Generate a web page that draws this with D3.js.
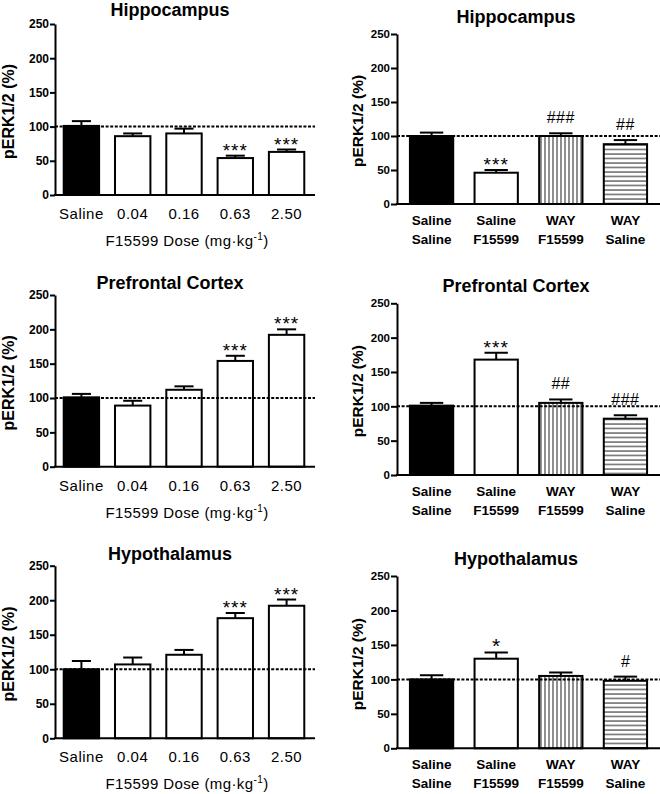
<!DOCTYPE html>
<html>
<meta charset="utf-8">
<script src="https://d3js.org/d3.v7.min.js"></script>
<style>
  body { margin: 0; background: #fff; }
  text { font-family: "Liberation Sans", Arial, sans-serif; fill: #000; }
</style>
<body>
<div id="my_dataviz"></div>

<script>
// categories and tick labels
var doseLabels = ["Saline", "0.04", "0.16", "0.63", "2.50"];
var treatTop = ["Saline", "Saline", "WAY", "WAY"];
var treatBottom = ["Saline", "F15599", "F15599", "Saline"];
var yTicks = [0, 50, 100, 150, 200, 250];

// dose-response panels (mean, sem, significance)
var hippoDoseMean = [101, 86, 90, 54, 63];
var hippoDoseSem = [7, 4, 7, 3.5, 3.5];
var hippoDoseSig = ["", "", "", "***", "***"];
var pfcDoseMean = [101, 89, 112, 154, 192];
var pfcDoseSem = [5, 7, 5, 7.5, 8];
var pfcDoseSig = ["", "", "", "***", "***"];
var hypoDoseMean = [100, 107, 121, 174, 192];
var hypoDoseSem = [12, 10, 7, 7.5, 9];
var hypoDoseSig = ["", "", "", "***", "***"];

// WAY antagonism panels
var hippoTreatMean = [100, 46, 100, 88];
var hippoTreatSem = [5, 4, 4, 6];
var hippoTreatSig = ["", "***", "###", "##"];
var pfcTreatMean = [101, 168, 105, 82];
var pfcTreatSem = [4, 10, 5, 5];
var pfcTreatSig = ["", "***", "##", "###"];
var hypoTreatMean = [100, 130, 105, 98];
var hypoTreatSem = [6, 9, 5, 6];
var hypoTreatSig = ["", "*", "", "#"];

var doseFills = ["#000", "#fff", "#fff", "#fff", "#fff"];
var treatFills = ["#000", "#fff", "url(#vstripe)", "url(#hstripe)"];

var svg = d3.select("#my_dataviz")
  .append("svg")
    .attr("width", 660)
    .attr("height", 794);

// stripe patterns
var defs = svg.append("defs");
defs.append("pattern")
    .attr("id", "vstripe")
    .attr("patternUnits", "userSpaceOnUse")
    .attr("width", 4).attr("height", 4)
  .call(function(p) {
    p.append("rect").attr("width", 4).attr("height", 4).attr("fill", "#fff");
    p.append("line").attr("x1", 1).attr("x2", 1).attr("y1", 0).attr("y2", 4)
      .attr("stroke", "#333").attr("stroke-width", 1.1);
  });
defs.append("pattern")
    .attr("id", "hstripe")
    .attr("patternUnits", "userSpaceOnUse")
    .attr("width", 4).attr("height", 4.5)
  .call(function(p) {
    p.append("rect").attr("width", 4).attr("height", 4.5).attr("fill", "#fff");
    p.append("line").attr("x1", 0).attr("x2", 4).attr("y1", 1).attr("y2", 1)
      .attr("stroke", "#333").attr("stroke-width", 1.1);
  });

function drawPanel(o) {
  var g = svg.append("g");

  var x = d3.scaleBand()
    .domain(d3.range(o.mean.length))
    .range([o.x0, o.x1])
    .paddingInner(o.pi)
    .paddingOuter(o.po);

  var y = d3.scaleLinear()
    .domain([0, 250])
    .range([o.y0, o.y250]);

  // bars
  g.selectAll("rect.bar")
    .data(o.mean)
    .enter().append("rect")
      .attr("class", "bar")
      .attr("x", function(d, i) { return x(i); })
      .attr("y", function(d) { return y(d); })
      .attr("width", x.bandwidth())
      .attr("height", function(d) { return y(0) - y(d); })
      .attr("fill", function(d, i) { return o.fills[i]; })
      .attr("stroke", "#000")
      .attr("stroke-width", 2);

  // upper error bars
  var cap = x.bandwidth() * 0.27;
  o.mean.forEach(function(m, i) {
    var cx = x(i) + x.bandwidth() / 2;
    g.append("line")
      .attr("x1", cx).attr("x2", cx)
      .attr("y1", y(m)).attr("y2", y(m + o.sem[i]))
      .attr("stroke", "#000").attr("stroke-width", 2);
    g.append("line")
      .attr("x1", cx - cap).attr("x2", cx + cap)
      .attr("y1", y(m + o.sem[i])).attr("y2", y(m + o.sem[i]))
      .attr("stroke", "#000").attr("stroke-width", 2);
  });

  // y axis
  var ya = g.append("g")
    .attr("transform", "translate(" + o.x0 + ",0)")
    .call(d3.axisLeft(y).tickValues(yTicks).tickSize(o.tick).tickSizeOuter(0).tickPadding(1));
  ya.selectAll("path, line").attr("stroke", "#000").attr("stroke-width", 2);
  ya.selectAll("text")
    .style("font-family", "'Liberation Sans', Arial, sans-serif")
    .style("font-size", o.tickFont + "px")
    .style("font-weight", "bold")
    .attr("fill", "#000");

  // x axis line
  g.append("line")
    .attr("x1", o.x0 - 1).attr("x2", o.axisEnd)
    .attr("y1", y(0)).attr("y2", y(0))
    .attr("stroke", "#000").attr("stroke-width", 2);

  // reference line at 100%
  g.append("line")
    .attr("x1", o.x0).attr("x2", o.axisEnd)
    .attr("y1", y(100)).attr("y2", y(100))
    .attr("stroke", "#000").attr("stroke-width", 2)
    .attr("stroke-dasharray", "3,1.6");

  // significance marks
  o.sig.forEach(function(s, i) {
    if (!s) return;
    var isHash = s.charAt(0) == "#";
    var top = y(o.mean[i] + o.sem[i]);
    g.append("text")
      .attr("x", x(i) + x.bandwidth() / 2)
      .attr("y", isHash ? top - 10 : (s == "*" ? top + 0 : top + 1))
      .attr("text-anchor", "middle")
      .style("font-size", (s == "*" ? 21 : (isHash ? 16 : 19)) + "px")
      .style("letter-spacing", s.length > 1 ? (isHash ? "0.5px" : "1px") : "0px")
      .text(s);
  });

  // x labels
  if (o.labels2) {
    o.labels.forEach(function(l, i) {
      var cx = x(i) + x.bandwidth() / 2;
      g.append("text").attr("x", cx).attr("y", y(0) + 21)
        .attr("text-anchor", "middle")
        .style("font-size", "13.5px").style("font-weight", "bold")
        .text(l);
      g.append("text").attr("x", cx).attr("y", y(0) + 40)
        .attr("text-anchor", "middle")
        .style("font-size", "13.5px").style("font-weight", "bold")
        .text(o.labels2[i]);
    });
  } else {
    o.labels.forEach(function(l, i) {
      g.append("text").attr("x", x(i) + x.bandwidth() / 2).attr("y", y(0) + 24)
        .attr("text-anchor", "middle")
        .style("font-size", "15px")
        .style("letter-spacing", "0.5px")
        .text(l);
    });
    var xt = g.append("text")
      .attr("x", (o.x0 + o.axisEnd) / 2 + 2).attr("y", y(0) + 51)
      .attr("text-anchor", "middle")
      .style("font-size", "15px")
      .style("letter-spacing", "0.4px");
    xt.append("tspan").text("F15599 Dose (mg\u00b7kg");
    xt.append("tspan").attr("dy", -6).style("font-size", "10px").text("-1");
    xt.append("tspan").attr("dy", 6).text(")");
  }

  // y title
  g.append("text")
    .attr("transform", "translate(" + o.ytX + "," + ((o.y0 + o.y250) / 2 + 2) + ") rotate(-90)")
    .attr("text-anchor", "middle")
    .style("font-size", o.ytFont + "px")
    .style("font-weight", "bold")
    .text("pERK1/2 (%)");

  // title
  g.append("text")
    .attr("x", o.titleX).attr("y", o.titleY)
    .attr("text-anchor", "middle")
    .style("font-size", "18px")
    .style("font-weight", "bold")
    .text(o.title);
}

var left = { x0: 55, x1: 313, axisEnd: 315, pi: 0.31, po: 0.17, tick: 5, tickFont: 12,
             ytX: 14, ytFont: 16, titleX: 170, labels: doseLabels, fills: doseFills };
var right = { x0: 397, x1: 660, axisEnd: 660, pi: 0.33, po: 0.2, tick: 6, tickFont: 11.5,
              ytX: 363, ytFont: 15.5, titleX: 516, labels: treatTop, labels2: treatBottom, fills: treatFills };

drawPanel(Object.assign({}, left, { y0: 195, y250: 24, titleY: 16, title: "Hippocampus",
  mean: hippoDoseMean, sem: hippoDoseSem, sig: hippoDoseSig }));
drawPanel(Object.assign({}, right, { y0: 204, y250: 34, titleY: 23, title: "Hippocampus",
  mean: hippoTreatMean, sem: hippoTreatSem, sig: hippoTreatSig }));
drawPanel(Object.assign({}, left, { y0: 466.7, y250: 295, titleY: 289, title: "Prefrontal Cortex",
  mean: pfcDoseMean, sem: pfcDoseSem, sig: pfcDoseSig }));
drawPanel(Object.assign({}, right, { y0: 475, y250: 303.3, titleY: 292, title: "Prefrontal Cortex",
  mean: pfcTreatMean, sem: pfcTreatSem, sig: pfcTreatSig }));
drawPanel(Object.assign({}, left, { y0: 738.3, y250: 565.7, titleY: 560, title: "Hypothalamus",
  mean: hypoDoseMean, sem: hypoDoseSem, sig: hypoDoseSig }));
drawPanel(Object.assign({}, right, { y0: 748.3, y250: 576, titleY: 565, title: "Hypothalamus",
  mean: hypoTreatMean, sem: hypoTreatSem, sig: hypoTreatSig }));
</script>
</body>
</html>
